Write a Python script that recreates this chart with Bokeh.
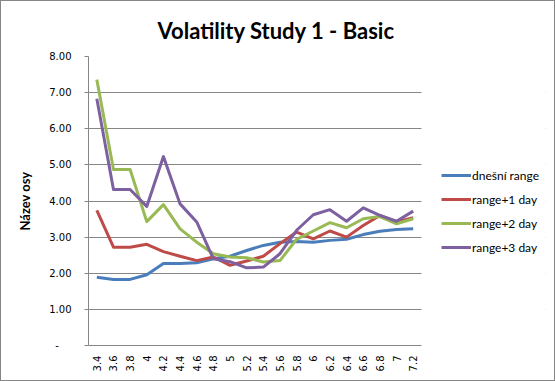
from bokeh.plotting import figure
from bokeh.models import (Range1d, Legend, LegendItem, FixedTicker,
                          NumeralTickFormatter, ColumnDataSource, BoxAnnotation)
from bokeh.layouts import column
from bokeh.embed import file_html
from bokeh.resources import INLINE
import math

categories = ["3.4", "3.6", "3.8", "4", "4.2", "4.4", "4.6", "4.8", "5", "5.2",
              "5.4", "5.6", "5.8", "6", "6.2", "6.4", "6.6", "6.8", "7", "7.2"]
dnesni_range = [1.89, 1.83, 1.83, 1.96, 2.27, 2.27, 2.29, 2.40, 2.47, 2.63,
                2.77, 2.86, 2.88, 2.86, 2.91, 2.94, 3.07, 3.16, 3.21, 3.23]
range_1_day = [3.74, 2.72, 2.72, 2.80, 2.60, 2.47, 2.35, 2.45, 2.22, 2.34,
               2.47, 2.82, 3.14, 2.95, 3.17, 3.00, 3.32, 3.60, 3.42, 3.54]
range_2_day = [7.36, 4.87, 4.87, 3.43, 3.90, 3.23, 2.86, 2.54, 2.45, 2.43,
               2.31, 2.35, 2.94, 3.17, 3.40, 3.26, 3.51, 3.57, 3.37, 3.51]
range_3_day = [6.83, 4.32, 4.32, 3.85, 5.23, 3.92, 3.42, 2.40, 2.32, 2.15,
               2.17, 2.54, 3.19, 3.62, 3.76, 3.44, 3.81, 3.60, 3.44, 3.72]
series_names = ["dnešní range", "range+1 day", "range+2 day", "range+3 day"]
y_ticks = [0, 1, 2, 3, 4, 5, 6, 7, 8]

colors = ["#4A7EBB", "#BE4B48", "#98B954", "#7D60A0"]
grid = "#868686"

n = len(categories)
idx = list(range(n))

W, H = 553, 379
LEFT, TOP, BOTTOM, RIGHT = 87, 55, 35, 9
frame_w = W - LEFT - RIGHT
plot_w = 333                      # width of the plotted category area
x_end = -0.5 + n * frame_w / plot_w

p = figure(width=W, height=H, output_backend="svg", toolbar_location=None,
           x_range=Range1d(-0.5, x_end), y_range=Range1d(0, 8),
           min_border_left=LEFT, min_border_right=RIGHT, min_border_top=TOP,
           min_border_bottom=BOTTOM,
           title="Volatility Study 1 - Basic")

p.title.text_font = "Lato"
p.title.text_font_style = "bold"
p.title.text_font_size = "22px"
p.title.align = "left"
p.title.offset = 69
p.title.standoff = 25
p.title.text_color = "#000000"

p.outline_line_color = None
p.background_fill_color = "white"
p.border_fill_color = "white"

items = []
for name, vals, col in zip(series_names,
                           [dnesni_range, range_1_day, range_2_day, range_3_day],
                           colors):
    src = ColumnDataSource(dict(x=idx, y=vals))
    r = p.line("x", "y", source=src, line_color=col, line_width=3,
               line_join="round")
    items.append(LegendItem(label=name, renderers=[r]))

# blank the area right of the category range (legend area)
mask = BoxAnnotation(left=n - 0.5, fill_color="white", fill_alpha=1,
                     line_color=None, level="underlay")
p.add_layout(mask)

legend = Legend(items=items, location=(353, 88), orientation="vertical",
                glyph_width=30, glyph_height=20, label_height=20,
                label_standoff=1, spacing=4, padding=0, margin=0,
                label_text_font="Lato", label_text_font_size="12px",
                label_text_color="#000000",
                border_line_color=None, background_fill_alpha=0)
p.add_layout(legend, "center")

# x axis
xax = p.xaxis[0]
xax.ticker = FixedTicker(ticks=idx)
xax.major_label_overrides = {i: c for i, c in zip(idx, categories)}
xax.bounds = (-0.5, n - 0.5)
xax.major_label_orientation = math.pi / 2
xax.major_label_text_font = "DejaVu Sans"
xax.major_label_text_font_size = "10px"
xax.major_label_text_color = "#000000"
xax.axis_line_color = grid
xax.major_tick_line_color = None
xax.minor_tick_line_color = None
xax.major_label_standoff = 4
p.xgrid.grid_line_color = None

# y axis
yax = p.yaxis[0]
yax.ticker = FixedTicker(ticks=y_ticks)
yax.formatter = NumeralTickFormatter(format="0.00")
yax.major_label_overrides = {0: "-\u2007\u2007"}
yax.major_label_text_font = "DejaVu Sans"
yax.major_label_text_font_size = "10px"
yax.major_label_text_color = "#000000"
yax.axis_line_color = grid
yax.major_tick_line_color = grid
yax.major_tick_out = 4
yax.major_tick_in = 0
yax.minor_tick_line_color = None
yax.major_label_standoff = 13
yax.axis_label = "Název osy"
yax.axis_label_text_font = "Lato"
yax.axis_label_text_font_style = "bold"
yax.axis_label_text_font_size = "13px"
yax.axis_label_text_color = "#000000"
yax.axis_label_standoff = 13
p.ygrid.grid_line_color = grid
p.ygrid.grid_line_width = 1

layout = column(p, styles={"border": "1px solid #868686"})

open("out.html", "w").write(file_html(layout, INLINE))
